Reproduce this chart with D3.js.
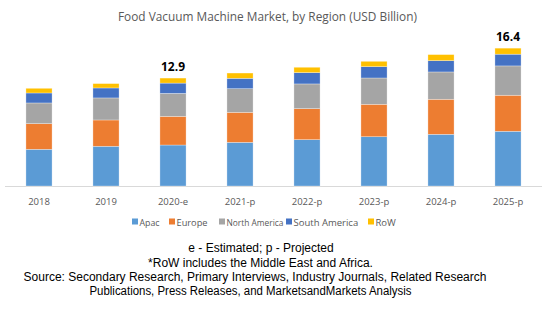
<!DOCTYPE html>
<html><head><meta charset="utf-8">
<script src="https://cdn.jsdelivr.net/npm/d3@7"></script>
<style>body{margin:0;background:#fff}svg{display:block}</style>
</head><body><svg id="c" width="547" height="309"></svg>
<script>
const categories = ["2018","2019","2020-e","2021-p","2022-p","2023-p","2024-p","2025-p"];
const seriesNames = ["Apac","Europe","North America","South America","RoW"];
const apac = [4.38,4.74,4.89,5.21,5.53,5.88,6.17,6.53];
const europe = [3.06,3.14,3.42,3.58,3.70,3.87,4.18,4.30];
const northAmerica = [2.47,2.63,2.74,2.82,2.95,3.14,3.26,3.50];
const southAmerica = [1.19,1.19,1.23,1.24,1.35,1.35,1.35,1.40];
const row = [0.56,0.52,0.60,0.63,0.64,0.64,0.72,0.72];
const totalLabels = {"2020-e":"12.9","2025-p":"16.4"};
const colors = ["#5B9BD5","#ED7D31","#A5A5A5","#4472C4","#FFC000"];

const svg = d3.select("#c");
const font = "'Open Sans', 'Liberation Sans', sans-serif";
const footFont = "'Liberation Sans', Arial, sans-serif";
const baseY = 186;
const x = d3.scaleBand().domain(categories).range([5.5, 541.5]).paddingInner(0.61).paddingOuter(0.305);
const y = d3.scaleLinear().domain([0, 16.4]).range([baseY, baseY - 16.4*8.38]);

const data = categories.map((c,i)=>({cat:c, Apac:apac[i], Europe:europe[i], "North America":northAmerica[i], "South America":southAmerica[i], RoW:row[i]}));
const stack = d3.stack().keys(seriesNames)(data);

svg.append("line").attr("x1",5).attr("x2",542).attr("y1",baseY+0.5).attr("y2",baseY+0.5).attr("stroke","#d9d9d9");

stack.forEach((s,k)=>{
  svg.append("g").selectAll("rect").data(s).join("rect")
    .attr("x", d=>x(d.data.cat))
    .attr("width", x.bandwidth())
    .attr("y", d=>y(d[1]))
    .attr("height", d=>y(d[0])-y(d[1]))
    .attr("fill", colors[k])
    .attr("stroke","#ffffff").attr("stroke-opacity",0.5).attr("stroke-width",0.6);
});

function squeeze(sel, target){
  const w = sel.node().getComputedTextLength();
  if (w > target) sel.attr("textLength", target).attr("lengthAdjust","spacingAndGlyphs");
  return sel;
}

// total labels
stack[stack.length-1].forEach(d=>{
  if(totalLabels[d.data.cat]){
    svg.append("text").attr("x", x(d.data.cat)+x.bandwidth()/2).attr("y", y(d[1])-7)
      .attr("text-anchor","middle").attr("font-family",font).attr("font-size",12).attr("font-weight","bold")
      .attr("fill","#000").text(totalLabels[d.data.cat]);
  }
});

// x axis labels
const xAxis = d3.axisBottom(x).tickSize(0).tickPadding(0);
const gx = svg.append("g").attr("transform",`translate(0,${baseY})`).call(xAxis);
gx.select(".domain").remove();
gx.selectAll("text").attr("font-family",font).attr("font-size",9.5).attr("fill","#595959").attr("dy",null).attr("y",18.5);

// title
const t = svg.append("text").attr("x",267.5).attr("y",21).attr("text-anchor","middle").attr("font-family",font)
  .attr("font-size",13).attr("fill","#595959").text("Food Vacuum Machine Market, by Region (USD Billion)");
squeeze(t, 299);

// legend
const legX = [132,169,219,286,368];
const legW = [20,31,57,66,22];
const lg = svg.append("g");
seriesNames.forEach((n,i)=>{
  lg.append("rect").attr("x",legX[i]).attr("y",218.5).attr("width",6).attr("height",6).attr("fill",colors[i]);
  const tt = lg.append("text").attr("x",legX[i]+7.5).attr("y",225.5).attr("font-family",font).attr("font-size",9.5).attr("fill","#595959").text(n);
  squeeze(tt, legW[i]);
});

// footer
const foot = [
  ["e - Estimated; p - Projected", 261, 252, 148],
  ["*RoW includes the Middle East and Africa.", 260.5, 266.5, 225],
  ["Source: Secondary Research, Primary Interviews, Industry Journals, Related Research", 255, 280.5, 484],
  ["Publications, Press Releases, and MarketsandMarkets Analysis", 250.5, 294.5, 322]
];
foot.forEach(f=>{
  const tt = svg.append("text").attr("x",f[1]).attr("y",f[2]).attr("text-anchor","middle").attr("font-family",footFont)
    .attr("font-size",12).attr("fill","#000").text(f[0]);
  squeeze(tt, f[3]);
});
</script></body></html>
